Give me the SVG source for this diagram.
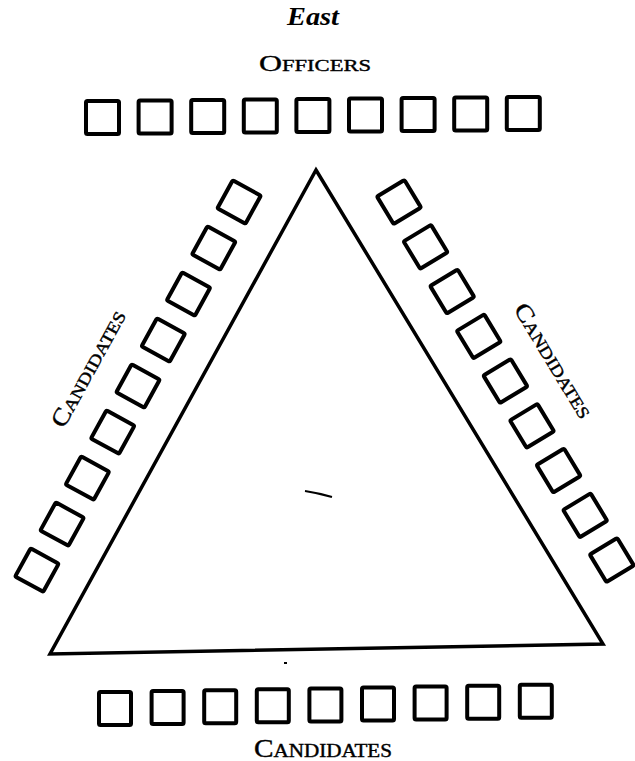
<svg xmlns="http://www.w3.org/2000/svg" width="635" height="761" viewBox="0 0 635 761">
<style>
.seat{fill:none;stroke:#000;stroke-width:4;stroke-linejoin:round}
.lbl{font-family:"Liberation Serif","Times New Roman",serif;fill:#000;stroke:#000;stroke-width:0.4;font-variant:small-caps}
.edge{fill:none;stroke:#000;stroke-width:3.5;stroke-linejoin:miter}
</style>
<defs>
<rect id="dseat" class="seat" x="-16" y="-16" width="32" height="32" rx="1.5"/>
</defs>
<rect width="635" height="761" fill="#fff"/>
<g id="title">
<text x="313" y="25" font-family="Liberation Serif, serif" font-weight="bold" font-style="italic" font-size="26" text-anchor="middle" textLength="52" lengthAdjust="spacingAndGlyphs">East</text>
</g>
<g id="label-officers"><text class="lbl" x="315" y="71" font-size="24" text-anchor="middle" textLength="112" lengthAdjust="spacingAndGlyphs">Officers</text></g>
<g id="label-left"><text class="lbl" transform="translate(89,369) rotate(-61.2)" y="7" font-size="24" text-anchor="middle" textLength="130" lengthAdjust="spacingAndGlyphs">Candidates</text></g>
<g id="label-right"><text class="lbl" transform="translate(553,361) rotate(58.8)" y="7" font-size="24" text-anchor="middle" textLength="130" lengthAdjust="spacingAndGlyphs">Candidates</text></g>
<g id="label-bottom"><text class="lbl" x="323" y="757" font-size="25" text-anchor="middle" textLength="138" lengthAdjust="spacingAndGlyphs">Candidates</text></g>
<g id="connectors">
<polygon id="table" class="edge" points="316,170 603,644 50,654"/>
<path d="M305,491 Q318,493 332,497" fill="none" stroke="#000" stroke-width="2"/>
<rect x="284" y="662" width="3" height="2" fill="#000"/>
</g>
<g id="officers">
<g id="o1"><rect class="seat" x="86" y="101" width="33" height="33" rx="1.5"/></g>
<g id="o2"><rect class="seat" x="138.6" y="100.5" width="33" height="33" rx="1.5"/></g>
<g id="o3"><rect class="seat" x="191.2" y="100" width="33" height="33" rx="1.5"/></g>
<g id="o4"><rect class="seat" x="243.8" y="99.5" width="33" height="33" rx="1.5"/></g>
<g id="o5"><rect class="seat" x="296.4" y="99" width="33" height="33" rx="1.5"/></g>
<g id="o6"><rect class="seat" x="349" y="98.5" width="33" height="33" rx="1.5"/></g>
<g id="o7"><rect class="seat" x="401.6" y="98" width="33" height="33" rx="1.5"/></g>
<g id="o8"><rect class="seat" x="454.2" y="97.5" width="33" height="33" rx="1.5"/></g>
<g id="o9"><rect class="seat" x="506.8" y="97" width="33" height="33" rx="1.5"/></g>
</g>
<g id="left-candidates">
<g id="l1"><use href="#dseat" transform="translate(239.1,202) rotate(28.8)"/></g>
<g id="l2"><use href="#dseat" transform="translate(213.8,248) rotate(28.8)"/></g>
<g id="l3"><use href="#dseat" transform="translate(188.5,294) rotate(28.8)"/></g>
<g id="l4"><use href="#dseat" transform="translate(163.3,340) rotate(28.8)"/></g>
<g id="l5"><use href="#dseat" transform="translate(138,386) rotate(28.8)"/></g>
<g id="l6"><use href="#dseat" transform="translate(112.7,432.1) rotate(28.8)"/></g>
<g id="l7"><use href="#dseat" transform="translate(87.4,478.1) rotate(28.8)"/></g>
<g id="l8"><use href="#dseat" transform="translate(62.1,524.1) rotate(28.8)"/></g>
<g id="l9"><use href="#dseat" transform="translate(36.9,570.1) rotate(28.8)"/></g>
</g>
<g id="right-candidates">
<g id="r1"><use href="#dseat" transform="translate(399,202) rotate(-31.2)"/></g>
<g id="r2"><use href="#dseat" transform="translate(425.6,246.8) rotate(-31.2)"/></g>
<g id="r3"><use href="#dseat" transform="translate(452.2,291.5) rotate(-31.2)"/></g>
<g id="r4"><use href="#dseat" transform="translate(478.8,336.3) rotate(-31.2)"/></g>
<g id="r5"><use href="#dseat" transform="translate(505.4,381) rotate(-31.2)"/></g>
<g id="r6"><use href="#dseat" transform="translate(532,425.8) rotate(-31.2)"/></g>
<g id="r7"><use href="#dseat" transform="translate(558.6,470.5) rotate(-31.2)"/></g>
<g id="r8"><use href="#dseat" transform="translate(585.2,515.3) rotate(-31.2)"/></g>
<g id="r9"><use href="#dseat" transform="translate(611.8,560) rotate(-31.2)"/></g>
</g>
<g id="bottom-candidates">
<g id="b1"><rect class="seat" x="99" y="692" width="32" height="33" rx="1.5"/></g>
<g id="b2"><rect class="seat" x="151.6" y="691.1" width="32" height="33" rx="1.5"/></g>
<g id="b3"><rect class="seat" x="204.2" y="690.2" width="32" height="33" rx="1.5"/></g>
<g id="b4"><rect class="seat" x="256.8" y="689.3" width="32" height="33" rx="1.5"/></g>
<g id="b5"><rect class="seat" x="309.4" y="688.4" width="32" height="33" rx="1.5"/></g>
<g id="b6"><rect class="seat" x="362" y="687.5" width="32" height="33" rx="1.5"/></g>
<g id="b7"><rect class="seat" x="414.6" y="686.6" width="32" height="33" rx="1.5"/></g>
<g id="b8"><rect class="seat" x="467.2" y="685.7" width="32" height="33" rx="1.5"/></g>
<g id="b9"><rect class="seat" x="519.8" y="684.8" width="32" height="33" rx="1.5"/></g>
</g>
</svg>
